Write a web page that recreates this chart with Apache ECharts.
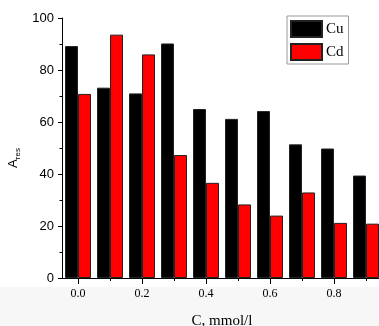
<!DOCTYPE html>
<html>
<head>
<meta charset="utf-8">
<script src="https://cdn.jsdelivr.net/npm/echarts@6/dist/echarts.min.js"></script>
<style>
  html, body { margin: 0; padding: 0; background: #fff; }
</style>
</head>
<body>
<div id="charts" style="width: 379px;height: 326px"></div>
<script>
    // C, mmol/l
    var categories = ['0.0', '0.1', '0.2', '0.3', '0.4', '0.5', '0.6', '0.7', '0.8', '0.9'];
    // A_res
    var cuData = [89.2, 73.2, 71.0, 90.2, 65.0, 61.2, 64.2, 51.4, 49.8, 39.4];
    var cdData = [70.8, 93.6, 86.0, 47.3, 36.6, 28.3, 24.0, 32.9, 21.2, 20.9];

    var serif = '"Liberation Serif", "DejaVu Serif", serif';
    var sans = '"Liberation Sans", Arial, sans-serif';

    var chart = echarts.init(document.getElementById('charts'));
    chart.setOption({
        backgroundColor: '#fff',
        animation: false,
        graphic: [{
            type: 'rect',
            z: -10,
            silent: true,
            shape: { x: 0, y: 287, width: 379, height: 39 },
            style: { fill: '#f7f7f7' }
        }],
        legend: {
            orient: 'vertical',
            left: 287,
            top: 16,
            itemWidth: 31,
            itemHeight: 16,
            itemGap: 5,
            padding: [4, 5, 3, 3],
            borderColor: '#999',
            borderWidth: 1,
            backgroundColor: '#fff',
            icon: 'rect',
            textStyle: { fontFamily: serif, fontSize: 15, color: '#000', padding: [0, 0, 0, -1] },
            data: ['Cu', 'Cd']
        },
        grid: {
            left: 62,
            top: 18,
            width: 320,
            bottom: 48,
            outerBoundsMode: 'none',
            containLabel: false
        },
        xAxis: [{
            type: 'category',
            data: categories,
            name: 'C, mmol/l',
            nameLocation: 'middle',
            nameGap: 36,
            nameTextStyle: { fontFamily: serif, fontSize: 15, color: '#000' },
            axisLine: { lineStyle: { color: '#000', width: 1 } },
            axisTick: { show: true, interval: 0, alignWithLabel: true, length: 3, lineStyle: { color: '#000' } },
            axisLabel: { interval: 1, margin: 10, fontFamily: serif, fontSize: 12, color: '#000' },
            splitLine: { show: false }
        }, {
            type: 'category',
            data: categories,
            position: 'bottom',
            axisLine: { show: false },
            axisTick: { show: true, interval: 1, alignWithLabel: true, length: 6, lineStyle: { color: '#000' } },
            axisLabel: { show: false },
            splitLine: { show: false }
        }],
        yAxis: {
            type: 'value',
            min: 0,
            max: 100,
            interval: 20,
            name: '{a|A}{s|res}',
            nameLocation: 'middle',
            nameRotate: 90,
            nameGap: 28,
            nameTextStyle: {
                padding: [0, 20, 0, 0],
                rich: {
                    a: { fontFamily: sans, fontSize: 13, color: '#000' },
                    s: { fontFamily: sans, fontSize: 8, color: '#000', verticalAlign: 'bottom', padding: [7, 0, 0, 0] }
                }
            },
            axisLine: { show: true, lineStyle: { color: '#000', width: 1 } },
            axisTick: { show: true, length: 4, lineStyle: { color: '#000' } },
            minorTick: { show: true, splitNumber: 2, length: 2.5, lineStyle: { color: '#000' } },
            axisLabel: { margin: 8, fontFamily: sans, fontSize: 13, color: '#000' },
            splitLine: { show: false }
        },
        series: [
            {
                name: 'Cu',
                type: 'bar',
                barWidth: 13,
                barGap: '0%',
                itemStyle: { color: '#000', borderColor: '#222', borderWidth: 1 },
                data: cuData
            },
            {
                name: 'Cd',
                type: 'bar',
                barWidth: 13,
                barGap: '0%',
                itemStyle: { color: '#ff0000', borderColor: '#222', borderWidth: 1 },
                data: cdData
            }
        ]
    });
</script>
</body>
</html>
